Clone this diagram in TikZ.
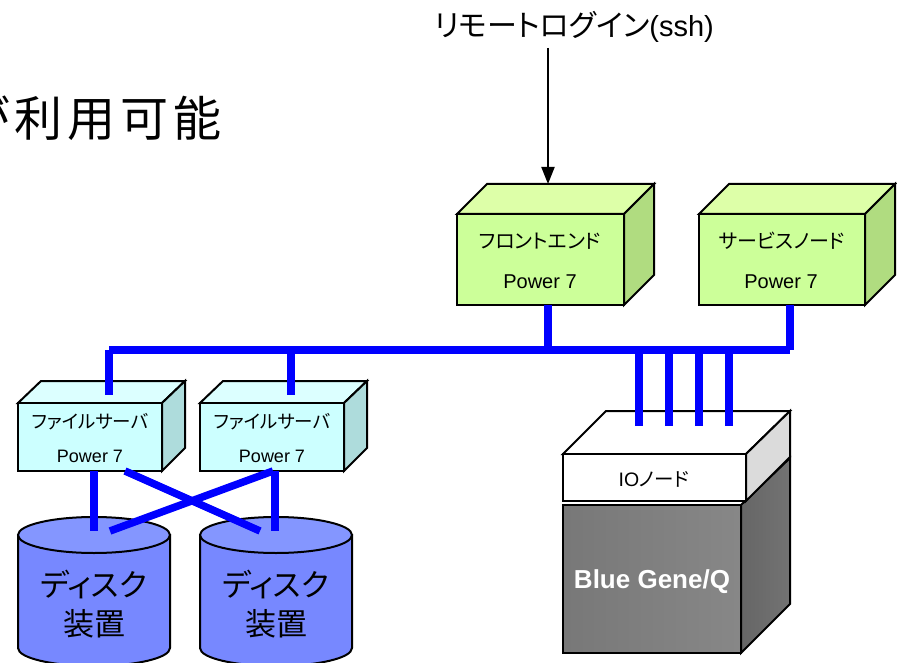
\documentclass[tikz,border=0pt]{standalone}
\usepackage{fontspec}
\setmainfont{Liberation Sans}
\newfontfamily\jpfont[RawFeature=+palt]{Noto Sans CJK JP}
\newfontfamily\jpfixed[LetterSpace=10]{Noto Sans CJK JP}
\usetikzlibrary{arrows.meta}
\definecolor{greenfront}{HTML}{CCFF99}
\definecolor{greentop}{HTML}{DDFFA8}
\definecolor{greenside}{HTML}{B0DC80}
\definecolor{cyanfront}{HTML}{CCFFFF}
\definecolor{cyantop}{HTML}{DCFFFF}
\definecolor{cyanside}{HTML}{AEDCDC}
\definecolor{disktop}{HTML}{8496FF}
\definecolor{diskbody}{HTML}{7788FF}
\definecolor{bluelink}{HTML}{0000FF}
\newcommand{\fs}[1]{\fontsize{#1}{#1}\selectfont}
% box with visible front, top and right faces: name, front corners, depth, three colours
\newcommand{\solidbox}[9]{%
  \path[edge,fill=#8] (#2,#3) -- ++(#6,-30) -- ++(#4-#2,0) -- ++(-#6,30) -- cycle;
  \path[edge,fill=#9] (#4,#3) -- ++(#6,-30) -- (#4+#6,#5-30) -- (#4,#5) -- cycle;
  \node[facebox,fill=#7,minimum width=#4-#2,minimum height=#5-#3] (#1) at ({(#2+#4)/2},{(#3+#5)/2}) {};
}
% disk cylinder: name, centre x, top ellipse y, body bottom y
\newcommand{\diskunit}[4]{%
  \path[edge,fill=diskbody] (#2-76,#3) -- (#2-76,#4) arc[start angle=180,end angle=0,x radius=76,y radius=18] -- (#2+76,#3) -- cycle;
  \path[edge,fill=disktop] (#2,#3) ellipse[x radius=76,y radius=18];
  \node[inner sep=0pt,font=\jpfont\fs{31}] (#1a) at (#2,#3+49) {ディスク};
  \node[inner sep=0pt,font=\jpfont\fs{31}] (#1b) at (#2,#3+89) {装置};
}
\tikzset{
  edge/.style={draw=black,line width=2pt,line join=miter},
  facebox/.style={rectangle,draw=black,line width=2pt,inner sep=0pt},
  bluewire/.style={draw=bluelink,line width=7.5pt},
  boxlabel/.style={inner sep=0pt,anchor=base},
}
\begin{document}
\begin{tikzpicture}[x=1pt,y=-1pt]
\useasboundingbox (0,0) rectangle (897,663);
\clip (0,0) rectangle (897,663);

% heading
\node[inner sep=0pt,anchor=base west,font=\jpfixed\fs{48}] (heading) at (-38,136.5) {が利用可能};

% login label and arrow
\node[inner sep=0pt,font=\jpfont\fs{30}] (login) at (574,27) {リモートログイン{\rmfamily\fs{29}(ssh)}};

% front end and service node
\solidbox{fe}{457}{214}{624}{305}{30}{greenfront}{greentop}{greenside}
\node[boxlabel,font=\jpfont\fs{20}] (felabel) at (540,248) {フロントエンド};
\node[boxlabel,font=\fs{20}] (fepower) at (540,288) {Power 7};
\solidbox{sn}{699}{214}{865}{305}{30}{greenfront}{greentop}{greenside}
\node[boxlabel,font=\jpfont\fs{20}] (snlabel) at (782,248) {サービスノード};
\node[boxlabel,font=\fs{20}] (snpower) at (781,288) {Power 7};

% file servers
\path[edge,fill=cyantop] (18,403) -- (41,381) -- (185,381) -- (162,403) -- cycle;
\path[edge,fill=cyanside] (162,403) -- (185,381) -- (185,448) -- (162,471) -- cycle;
\node[facebox,fill=cyanfront,minimum width=144,minimum height=68] (fs1) at (90,437) {};
\node[boxlabel,font=\jpfont\fs{18.5}] (fs1label) at (90,428) {ファイルサーバ};
\node[boxlabel,font=\fs{18}] (fs1power) at (90,462) {Power 7};
\path[edge,fill=cyantop] (200,403) -- (223,381) -- (367,381) -- (344,403) -- cycle;
\path[edge,fill=cyanside] (344,403) -- (367,381) -- (367,448) -- (344,471) -- cycle;
\node[facebox,fill=cyanfront,minimum width=144,minimum height=68] (fs2) at (272,437) {};
\node[boxlabel,font=\jpfont\fs{18.5}] (fs2label) at (272,428) {ファイルサーバ};
\node[boxlabel,font=\fs{18}] (fs2power) at (272,462) {Power 7};

% disks
\diskunit{disk1}{94}{535}{648}
\diskunit{disk2}{276}{535}{648}

% compute rack and its IO drawer
\path[edge,left color=black!60,right color=black!55] (741,505) -- (790,458) -- (790,604) -- (741,653) -- cycle;
\node[facebox,left color=black!53,right color=black!47,minimum width=178,minimum height=148] (bgq) at (652,579) {};
\path[edge,fill=white] (563,454) -- (606,411) -- (790,411) -- (746,454) -- cycle;
\path[edge,fill=black!14] (746,454) -- (790,411) -- (790,457) -- (746,501) -- cycle;
\node[facebox,fill=white,minimum width=183,minimum height=47] (io) at (654.5,477.5) {};
\node[inner sep=0pt,font=\fs{19.5}] (iolabel) at (654,479) {IO{\jpfont ノード}};
\node[inner sep=0pt,text=white,font=\bfseries\fs{26}] (bgqlabel) at (652,582) {Blue Gene/Q};

% network wiring: the bus and its drops are separate butt-ended strokes
\coordinate (busL) at (109,350);
\coordinate (busR) at (790,350);
\coordinate (busFS) at (291,350);
\coordinate (busFE) at (548,350);
\coordinate (fs1in) at (109,395);
\coordinate (fs2in) at (291,395);
\coordinate (fedrop) at (548,305);
\coordinate (sndrop) at (790,305);
\draw[bluewire] (busL) -- (busR);
\draw[bluewire] (busL) -- (fs1in);
\draw[bluewire] (busFS) -- (fs2in);
\draw[bluewire] (fedrop) -- (busFE);
\draw[bluewire] (sndrop) -- (busR);
\foreach \xx/\nn in {639/a,669/b,699/c,729/d}{
  \coordinate (io\nn top) at (\xx,350);
  \coordinate (io\nn bot) at (\xx,426);
  \draw[bluewire] (io\nn top) -- (io\nn bot);
}

% storage links, straight and crossed
\coordinate (s1a) at (94,471);
\coordinate (s1b) at (125,471);
\coordinate (s2a) at (275,471);
\coordinate (s2b) at (273,471);
\coordinate (d1a) at (94,531);
\coordinate (d1b) at (110,531);
\coordinate (d2a) at (275,531);
\coordinate (d2b) at (260,531);
\draw[bluewire] (s1a) -- (d1a);
\draw[bluewire] (s2a) -- (d2a);
\draw[bluewire] (s1b) -- (d2b);
\draw[bluewire] (s2b) -- (d1b);

% login arrow
\coordinate (arrowtip) at (548,184);
\coordinate (arrowtail) at (548,48);
\draw[line width=2pt,-{Triangle[length=17pt,width=13pt]}] (arrowtail) -- (arrowtip);
\end{tikzpicture}
\end{document}
